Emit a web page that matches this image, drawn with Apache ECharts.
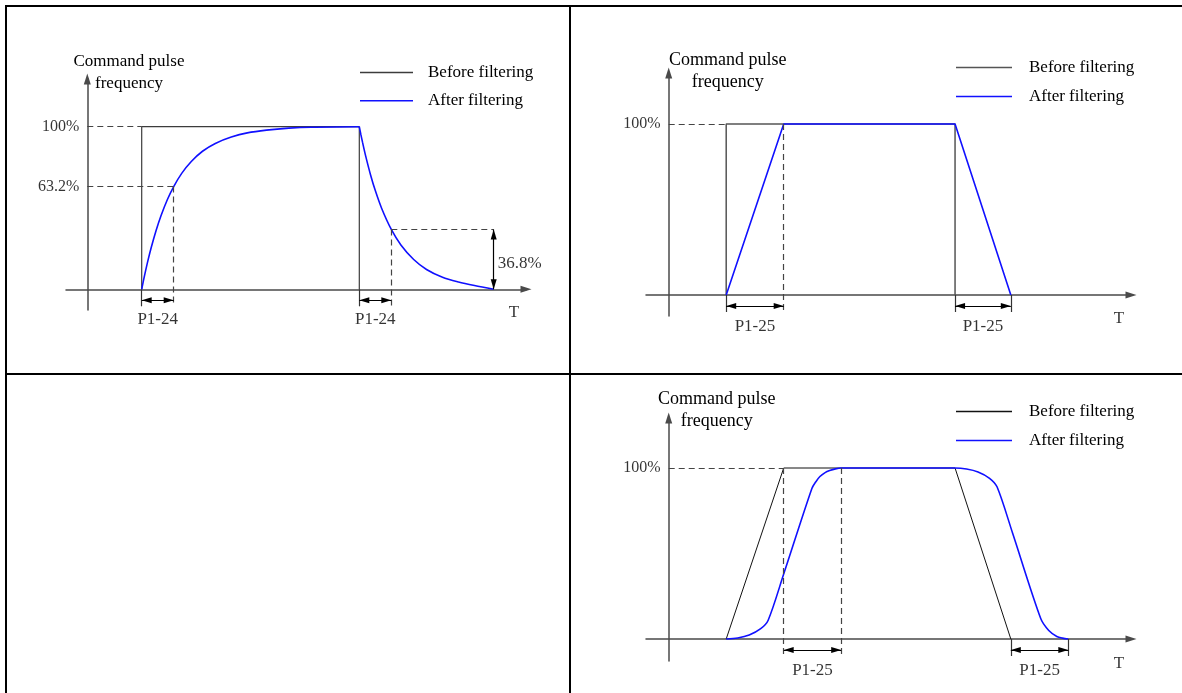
<!DOCTYPE html>
<html>
<head>
<meta charset="utf-8">
<script src="https://cdn.jsdelivr.net/npm/echarts@6/dist/echarts.min.js"></script>
<style>
html,body{margin:0;padding:0;background:#fff;}
#chart{width:1182px;height:693px;}
</style>
</head>
<body>
<div id="chart"></div>
<script>
// ================= DATA =================
const legendNames = ['Before filtering', 'After filtering'];
const yAxisTitle = 'Command pulse\nfrequency';
const timeAxisName = 'T';

// ---- Panel 1 : first-order (exponential) filter, time constant P1-24 ----
// times: step on, step on + P1-24, step off, step off + P1-24, end of decay
const p1Times = [1.7, 2.7, 8.5, 9.5, 12.7];
const p1Levels = [100, 63.2, 36.8];
const p1LevelLabels = ['100%', '63.2%', '36.8%'];
const p1SpanLabel = 'P1-24';
const p1Before = [[1.7, 0], [1.7, 100], [8.5, 100], [8.5, 0]];
const p1AfterRise = [[1.7, 0], [1.75, 4.9], [1.8, 9.5], [1.9, 18.1], [2.0, 25.9], [2.15, 36.2], [2.3, 45.1],
  [2.5, 55.1], [2.7, 63.2], [2.95, 71.3], [3.25, 78.6], [3.6, 84.9], [4.0, 89.7], [4.5, 93.6],
  [5.0, 96.2], [5.6, 97.9], [6.3, 99.1], [7.0, 99.7], [8.5, 100]];
const p1AfterFall = [[8.5, 100], [8.55, 95.1], [8.6, 90.5], [8.7, 81.9], [8.85, 70.5], [9.0, 60.7],
  [9.2, 49.7], [9.5, 36.8], [9.8, 27.3], [10.2, 18.3], [10.6, 12.2], [11.1, 7.4], [11.6, 4.5],
  [12.1, 2.3], [12.7, 0]];

// ---- Panel 2 : linear (average) filter, P1-25 ----
// times: ramp start, ramp start + P1-25, step off, step off + P1-25
const p2Times = [1, 2, 4.98, 5.95];
const p2LevelLabels = ['100%'];
const p2SpanLabel = 'P1-25';
const p2Before = [[1, 0], [1, 100], [4.98, 100], [4.98, 0]];
const p2After = [[1, 0], [2, 100], [4.98, 100], [5.95, 0]];

// ---- Panel 3 : smoothing of a trapezoid, P1-25 ----
// times: ramp top, ramp top + P1-25, ramp bottom, ramp bottom + P1-25
const p3Times = [2, 3, 5.95, 6.95];
const p3LevelLabels = ['100%'];
const p3SpanLabel = 'P1-25';
const p3Before = [[1, 0], [2, 100], [4.98, 100], [5.95, 0]];
const p3After = [[1, 0], [1.2, 0.6], [1.4, 2.3], [1.6, 6], [1.73, 11], [2, 38], [2.49, 88], [2.56, 92],
  [2.63, 95], [2.72, 97.3], [2.8, 98.5], [2.9, 99.5], [3, 100], [4.98, 100], [5.18, 99.4], [5.38, 97.7],
  [5.58, 94], [5.71, 89], [5.98, 62], [6.47, 12], [6.61, 5], [6.75, 1.5], [6.85, 0.5], [6.95, 0]];

// ================= LAYOUT / STYLE =================
const FONT = '"Liberation Serif", "Times New Roman", serif';
const BLUE = '#1010ff';
const layouts = [
  { ox: 87.3, oy: 289.3, ux: 32, uy: 1.626, xL: 66, xR: 531, yT: 74, yB: 310,
    nameDX: 41.7, nameCY: 72.2, nameSize: 17, tDY: 23.7, spanDY: 30.7,
    legendX: 360, legendY: 72, legendW: 53, legendStep: 27.3, legendTextGap: 15,
    black: '#3c3c3c', blackW: 1.2, smooth: 0.3 },
  { ox: 668.7, oy: 295, ux: 57.5, uy: 1.71, xL: 646, xR: 1136, yT: 68, yB: 316,
    nameDX: 59, nameCY: 71, nameSize: 18, tDY: 24, spanDY: 32,
    legendX: 956, legendY: 67, legendW: 56, legendStep: 28, legendTextGap: 17,
    black: '#555555', blackW: 1.5, smooth: false },
  { ox: 668.7, oy: 639, ux: 57.5, uy: 1.71, xL: 646, xR: 1136, yT: 413, yB: 661,
    nameDX: 48, nameCY: 410.5, nameSize: 18, tDY: 25, spanDY: 32,
    legendX: 956, legendY: 411, legendW: 56, legendStep: 28, legendTextGap: 17,
    black: '#111111', blackW: 1, smooth: 0.3 }
];

// annotation specs built from the data constants ('tick' = bottom of a guide tick below the axis)
function p1Spec() {
  const [on, on1, off, off1, end] = p1Times;
  return {
    before: p1Before, after: [p1AfterRise, p1AfterFall],
    yLabelValues: [p1Levels[0], p1Levels[1]], yLabelTexts: [p1LevelLabels[0], p1LevelLabels[1]],
    dashed: [[[0, p1Levels[0]], [on, p1Levels[0]]], [[0, p1Levels[1]], [on1, p1Levels[1]]],
             [[on1, p1Levels[1]], [on1, 'tick']], [[off1, p1Levels[2]], [off1, 'tick']],
             [[off1, p1Levels[2]], [end, p1Levels[2]]]],
    ticks: [on, off],
    spans: [[on, on1], [off, off1]], spanLabel: p1SpanLabel,
    vArrows: [[end, p1Levels[2], 0]],
    sideLabels: [[end, 16, p1LevelLabels[2]]]
  };
}
function p2Spec() {
  const [a, b, c, d] = p2Times;
  return {
    before: p2Before, after: [p2After],
    yLabelValues: [100], yLabelTexts: p2LevelLabels,
    dashed: [[[0, 100], [a, 100]], [[b, 100], [b, 'tick']]],
    ticks: [a, c, d],
    spans: [[a, b], [c, d]], spanLabel: p2SpanLabel,
    vArrows: [], sideLabels: []
  };
}
function p3Spec() {
  const [a, b, c, d] = p3Times;
  return {
    before: p3Before, after: [p3After],
    yLabelValues: [100], yLabelTexts: p3LevelLabels,
    dashed: [[[0, 100], [a, 100]], [[a, 100], [a, 'tick']], [[b, 100], [b, 'tick']]],
    ticks: [c, d],
    spans: [[a, b], [c, d]], spanLabel: p3SpanLabel,
    vArrows: [], sideLabels: []
  };
}

const option = {
  animation: false,
  backgroundColor: '#fff',
  grid: [], xAxis: [], yAxis: [], series: [], legend: [],
  graphic: [
    { type: 'line', shape: { x1: 5, y1: 6, x2: 1182, y2: 6 }, style: { stroke: '#000', lineWidth: 2 } },
    { type: 'line', shape: { x1: 6, y1: 5, x2: 6, y2: 693 }, style: { stroke: '#000', lineWidth: 2 } },
    { type: 'line', shape: { x1: 570, y1: 5, x2: 570, y2: 693 }, style: { stroke: '#000', lineWidth: 2 } },
    { type: 'line', shape: { x1: 5, y1: 374, x2: 1182, y2: 374 }, style: { stroke: '#000', lineWidth: 2 } }
  ]
};

function addPanel(i, L, S) {
  const gridTop = L.yT + 5, gridRight = L.xR - 5;
  const xMin = (L.xL - L.ox) / L.ux, xMax = (gridRight - L.ox) / L.ux;
  const yMax = (L.oy - gridTop) / L.uy, yMin = (L.oy - L.yB) / L.uy;
  const below = px => -px / L.uy;
  const Y = v => (v === 'tick' ? below(17) : v);
  const bName = legendNames[0] + '|' + i, aName = legendNames[1] + '|' + i;

  option.grid.push({ left: L.xL, top: gridTop, width: gridRight - L.xL, height: L.yB - gridTop,
    outerBoundsMode: 'none' });
  const axisLine = { onZero: true, symbol: ['none', 'triangle'], symbolSize: [7, 11],
    lineStyle: { color: '#4a4a4a', width: 1.5 } };
  option.xAxis.push({
    gridIndex: i, type: 'value', min: xMin, max: xMax,
    axisLine: axisLine, axisTick: { show: false }, axisLabel: { show: false }, splitLine: { show: false }
  });
  option.yAxis.push({
    gridIndex: i, type: 'value', min: yMin, max: yMax,
    axisLine: axisLine, axisTick: { show: false }, splitLine: { show: false }, axisLabel: { show: false },
    name: yAxisTitle, nameLocation: 'end', nameGap: gridTop - L.nameCY,
    nameTextStyle: { fontFamily: FONT, fontSize: L.nameSize, color: '#000', align: 'center', verticalAlign: 'middle',
      lineHeight: 22, padding: [0, 0, 0, 2 * L.nameDX] }
  });

  const dashStyle = { color: '#444', width: 1.2, type: [6, 4] };
  const solidStyle = { color: '#333', width: 1.2, type: 'solid' };
  const arrowStyle = { color: '#000', width: 1.2, type: 'solid' };
  const arrowEnd = { symbol: 'triangle', symbolSize: [6, 10], symbolOffset: [0, 5] };
  const ml = [];
  S.dashed.forEach(([p, q]) => ml.push([{ coord: [p[0], Y(p[1])], lineStyle: dashStyle, symbol: 'none' },
                                        { coord: [q[0], Y(q[1])], symbol: 'none' }]));
  S.ticks.forEach(x => ml.push([{ coord: [x, 0], lineStyle: solidStyle, symbol: 'none' },
                                { coord: [x, Y('tick')], symbol: 'none' }]));
  S.spans.forEach(([a, b]) => ml.push([Object.assign({ coord: [a, below(11)], lineStyle: arrowStyle }, arrowEnd),
                                       Object.assign({ coord: [b, below(11)] }, arrowEnd)]));
  S.vArrows.forEach(([x, y1, y2]) => ml.push([Object.assign({ coord: [x, y1], lineStyle: arrowStyle }, arrowEnd),
                                             Object.assign({ coord: [x, y2] }, arrowEnd)]));

  option.series.push({
    name: bName, type: 'line', xAxisIndex: i, yAxisIndex: i, data: S.before, symbol: 'none', showSymbol: false,
    lineStyle: { color: L.black, width: L.blackW }, itemStyle: { color: L.black }, silent: true, z: 2,
    markLine: { silent: true, animation: false, symbol: ['none', 'none'], label: { show: false },
      emphasis: { disabled: true }, itemStyle: { color: '#000' }, data: ml }
  });
  S.after.forEach(part => option.series.push({
    name: aName, type: 'line', xAxisIndex: i, yAxisIndex: i, data: part, symbol: 'none', showSymbol: false,
    smooth: L.smooth, lineStyle: { color: BLUE, width: 1.6 }, itemStyle: { color: BLUE },
    silent: true, z: 3
  }));

  // text annotations placed through the axes
  const labels = S.spans.map(([a, b]) => ({ value: [(a + b) / 2, below(L.spanDY)],
    label: { formatter: S.spanLabel, position: 'inside' } }));
  S.sideLabels.forEach(([x, y, t]) => labels.push({ value: [x, y], label: { formatter: t, position: 'right', distance: 4 } }));
  S.yLabelValues.forEach((v, k) => labels.push({ value: [0, v],
    label: { formatter: S.yLabelTexts[k], position: 'left', distance: 8, fontSize: 16 } }));
  labels.push({ value: [(L.xR - 17 - L.ox) / L.ux, below(L.tDY)], label: { formatter: timeAxisName, position: 'inside' } });
  option.series.push({
    type: 'scatter', xAxisIndex: i, yAxisIndex: i, data: labels, symbolSize: 0, clip: false, silent: true, z: 4,
    label: { show: true, fontFamily: FONT, fontSize: 17, color: '#000' }
  });

  option.legend.push({
    orient: 'vertical', left: L.legendX, top: L.legendY - 8, padding: 0, icon: 'rect',
    itemWidth: L.legendW, itemHeight: 1.5, itemGap: L.legendStep - 16, selectedMode: false,
    data: [bName, aName], formatter: n => n.split('|')[0],
    itemStyle: { borderWidth: 0 },
    textStyle: { fontFamily: FONT, fontSize: 17, color: '#000', lineHeight: 16, padding: [0, 0, 0, L.legendTextGap - 5] }
  });
}

addPanel(0, layouts[0], p1Spec());
addPanel(1, layouts[1], p2Spec());
addPanel(2, layouts[2], p3Spec());

const chart = echarts.init(document.getElementById('chart'), null, { renderer: 'canvas' });
chart.setOption(option);
</script>
</body>
</html>
